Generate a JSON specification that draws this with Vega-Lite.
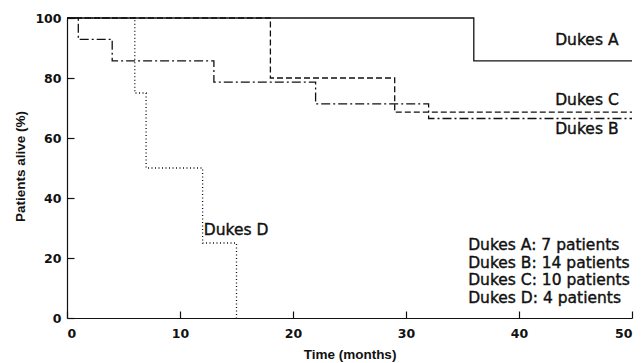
{
  "$schema": "https://vega.github.io/schema/vega-lite/v6.json",
  "width": 565,
  "height": 300,
  "autosize": {"type": "none"},
  "padding": {"left": 67, "top": 18, "right": 9, "bottom": 45},
  "background": "white",
  "config": {
    "view": {"stroke": null},
    "font": "DejaVu Sans",
    "axis": {
      "domainColor": "#111",
      "tickColor": "#111",
      "labelColor": "#111",
      "titleColor": "#111",
      "labelFont": "DejaVu Sans",
      "titleFont": "Liberation Sans",
      "labelFontSize": 12.5,
      "titleFontSize": 13.5,
      "labelFontWeight": "bold",
      "titleFontWeight": "bold",
      "grid": false,
      "domainWidth": 1.2,
      "tickWidth": 1.2
    }
  },
  "datasets": {
    "curves": [
      {"group": "Dukes A", "t": 0, "s": 100},
      {"group": "Dukes A", "t": 36, "s": 85.7},
      {"group": "Dukes A", "t": 50, "s": 85.7},
      {"group": "Dukes B", "t": 0, "s": 100},
      {"group": "Dukes B", "t": 1, "s": 92.9},
      {"group": "Dukes B", "t": 4, "s": 85.7},
      {"group": "Dukes B", "t": 13, "s": 78.6},
      {"group": "Dukes B", "t": 22, "s": 71.4},
      {"group": "Dukes B", "t": 32, "s": 66.5},
      {"group": "Dukes B", "t": 50, "s": 66.5},
      {"group": "Dukes C", "t": 0, "s": 100},
      {"group": "Dukes C", "t": 18, "s": 80},
      {"group": "Dukes C", "t": 29, "s": 68.6},
      {"group": "Dukes C", "t": 50, "s": 68.6},
      {"group": "Dukes D", "t": 0, "s": 100},
      {"group": "Dukes D", "t": 6, "s": 75},
      {"group": "Dukes D", "t": 7, "s": 50},
      {"group": "Dukes D", "t": 12, "s": 25},
      {"group": "Dukes D", "t": 15, "s": 0}
    ],
    "labels": [
      {"label": "Dukes A", "t": 43.2, "s": 92.7},
      {"label": "Dukes C", "t": 43.2, "s": 72.8},
      {"label": "Dukes B", "t": 43.2, "s": 63.0},
      {"label": "Dukes D", "t": 12.1, "s": 29.3},
      {"label": "Dukes A: 7 patients", "t": 35.5, "s": 24.4},
      {"label": "Dukes B: 14 patients", "t": 35.5, "s": 18.5},
      {"label": "Dukes C: 10 patients", "t": 35.5, "s": 12.6},
      {"label": "Dukes D: 4 patients", "t": 35.5, "s": 6.7}
    ]
  },
  "layer": [
    {
      "data": {"name": "curves"},
      "mark": {"type": "line", "interpolate": "step-after", "strokeWidth": 1.3, "color": "#111", "clip": false},
      "encoding": {
        "x": {
          "field": "t", "type": "quantitative",
          "scale": {"domain": [0, 50], "nice": false, "zero": true},
          "axis": {
            "title": "Time (months)",
            "values": [0, 10, 20, 30, 40, 50],
            "tickSize": -7,
            "labelPadding": 16,
            "titleX": 282.5,
            "titleY": 36,
            "titleBaseline": "middle"
          }
        },
        "y": {
          "field": "s", "type": "quantitative",
          "scale": {"domain": [0, 100], "nice": false},
          "axis": {
            "title": "Patients alive (%)",
            "values": [0, 20, 40, 60, 80, 100],
            "tickSize": -7,
            "labelPadding": 13,
            "titleX": -47,
            "titleY": 148,
            "titleBaseline": "middle",
            "titleAngle": -90
          }
        },
        "detail": {"field": "group"},
        "strokeDash": {
          "field": "group", "type": "nominal",
          "scale": {
            "domain": ["Dukes A", "Dukes B", "Dukes C", "Dukes D"],
            "range": [[1, 0], [9, 3, 2, 3], [6, 3], [1, 2.5]]
          },
          "legend": null
        }
      }
    },
    {
      "data": {"name": "labels"},
      "mark": {"type": "text", "align": "left", "baseline": "middle", "fontSize": 15.5, "font": "DejaVu Sans", "color": "#111", "stroke": "#111", "strokeWidth": 0.4},
      "encoding": {
        "x": {"field": "t", "type": "quantitative"},
        "y": {"field": "s", "type": "quantitative"},
        "text": {"field": "label"}
      }
    }
  ]
}
